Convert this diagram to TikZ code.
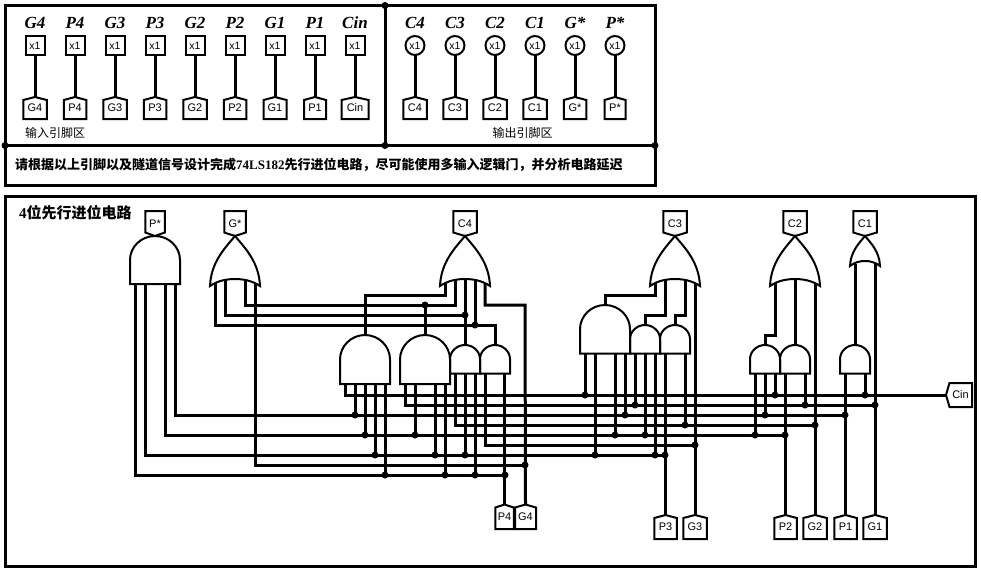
\documentclass[tikz,border=0pt]{standalone}
\usepackage{fontspec}
\setmainfont{Liberation Sans}
\newfontfamily\serifb{Liberation Serif}
\newfontfamily\cjk{Noto Sans CJK SC}
\usetikzlibrary{calc}
\tikzset{
  wire/.style={line width=3pt,line join=miter},
  frameline/.style={line width=3pt},
  outline/.style={line width=2pt,line join=miter},
  junction/.style={circle,fill=black,draw=none,inner sep=0pt,minimum size=7pt,outer sep=0pt},
  hollow/.style={rectangle,draw=none,inner sep=0pt,outer sep=0pt},
  pinname/.style={inner sep=0pt,font=\serifb\fontsize{17}{19}\selectfont\bfseries\itshape},
  tag/.style={hollow,font=\fontsize{11}{13}\selectfont},
  xbox/.style={rectangle,draw,line width=2pt,inner sep=0pt,outer sep=0pt,minimum size=19pt,font=\fontsize{10.5}{12}\selectfont},
  xcirc/.style={circle,draw,line width=2pt,inner sep=0pt,outer sep=0pt,minimum size=19pt,font=\fontsize{10.5}{12}\selectfont},
  note/.style={inner sep=0pt,anchor=west,font=\cjk\fontsize{12}{14}\selectfont},
  notebold/.style={inner sep=0pt,anchor=west,font=\cjk\bfseries\fontsize{13}{15}\selectfont},
  titlebold/.style={inner sep=0pt,anchor=west,font=\cjk\bfseries\fontsize{15}{17}\selectfont},
}
% name, cx, top, width, height, text : pentagon pointing up
\newcommand\tunUp[6]{%
  \node[tag,minimum width=#4pt,minimum height=#5pt] (#1) at (#2,#3+#5/2) {#6};
  \draw[outline] (#1.south west) -- ($(#1.north west)+(0,3)$) -- (#1.north) -- ($(#1.north east)+(0,3)$) -- (#1.south east) -- cycle;
}
% pentagon pointing down
\newcommand\tunDown[6]{%
  \node[tag,minimum width=#4pt,minimum height=#5pt] (#1) at (#2,#3+#5/2) {#6};
  \draw[outline] (#1.north west) -- ($(#1.south west)+(0,-3.5)$) -- (#1.south) -- ($(#1.south east)+(0,-3.5)$) -- (#1.north east) -- cycle;
}
% name, cx, top, width, height : AND gate
\newcommand\gAnd[5]{%
  \node[hollow,minimum width=#4pt,minimum height=#5pt] (#1) at (#2,#3+#5/2) {};
  \draw[outline] (#1.south west) -- (#1.west)
    .. controls ($(#1.west)!.55!(#1.north west)$) and ($(#1.north)!.55!(#1.north west)$) .. (#1.north)
    .. controls ($(#1.north)!.55!(#1.north east)$) and ($(#1.east)!.55!(#1.north east)$) .. (#1.east)
    -- (#1.south east) -- cycle;
}
% name, cx, top, bottom, width, back depth : OR gate
\newcommand\gOr[6]{%
  \pgfmathsetmacro\gl{#2-#5/2}\pgfmathsetmacro\gr{#2+#5/2}\pgfmathsetmacro\gh{#4-#3}
  \node[hollow,minimum width=#5pt,minimum height=\gh pt] (#1) at (#2,#3+\gh/2) {};
  \draw[outline] (\gl,#4) .. controls (\gl+.02*#5,#4-.48*\gh) and (#2-.2*#5,#3+.24*\gh) .. (#2,#3)
    .. controls (#2+.2*#5,#3+.24*\gh) and (\gr-.02*#5,#4-.48*\gh) .. (\gr,#4)
    .. controls (\gr-.16*#5,#4-.78*#6) and (#2+.16*#5,#4-#6) .. (#2,#4-#6)
    .. controls (#2-.16*#5,#4-#6) and (\gl+.16*#5,#4-.78*#6) .. (\gl,#4) -- cycle;
  \coordinate (#1b) at (#2,#4-.85*#6);
  \coordinate (#1e) at (#2,#4-.4*#6);
}
\begin{document}
\begin{tikzpicture}[x=1pt,y=-1pt]
\useasboundingbox (0,0) rectangle (981,571);
\fill[white] (0,0) rectangle (981,571);

% ---------- top panels ----------
\draw[frameline] (5,5.5) rectangle (655,185);
\draw[frameline] (5,196) rectangle (975.5,566);
\node[junction] (p1) at (385,5.5) {};
\node[junction] (p2) at (5,145.5) {};
\node[junction] (p3) at (385,145.5) {};
\node[junction] (p4) at (655,145.5) {};
\draw[frameline] (p1.center) -- (p3.center);
\draw[frameline] (p2.center) -- (p4.center);

\foreach \n/\cx/\w/\t in {G4/35/23.5/G4,P4/75/22.5/P4,G3/115/23.5/G3,P3/155/22.5/P3,G2/195/23.5/G2,P2/235/22.5/P2,G1/275/23/G1,P1/315/22/P1,Cin/355/27/Cin}{
  \node[pinname] (lab\n) at (\cx,23) {\t};
  \node[xbox] (box\n) at (\cx,45.5) {x1};
  \tunUp{pin\n}{\cx}{97}{\w}{22}{\t}
  \draw[wire] (box\n) -- (pin\n.north);
}
\foreach \n/\cx/\w/\t in {C4/415/23.5/C4,C3/455/23.5/C3,C2/495/23.5/C2,C1/535/23.5/C1,Gs/575/22.5/G*,Ps/615/21/P*}{
  \node[pinname] (lab\n) at (\cx,23) {\t};
  \node[xcirc] (box\n) at (\cx,45.5) {x1};
  \tunUp{pin\n}{\cx}{97}{\w}{22}{\t}
  \draw[wire] (box\n) -- (pin\n.north);
}
\node[note] (noteIn) at (25,132.5) {输入引脚区};
\node[note] (noteOut) at (492.5,132.5) {输出引脚区};
\node[notebold] (task) at (15,165) {请根据以上引脚以及隧道信号设计完成{\serifb\bfseries\fontsize{13}{15}\selectfont 74LS182}先行进位电路，尽可能使用多输入逻辑门，并分析电路延迟};
\node[titlebold] (title) at (19,213) {{\serifb\bfseries 4}位先行进位电路};

% ---------- output tags and gates ----------
\tunDown{TPs}{155}{211}{19.5}{25}{P*}
\tunDown{TGs}{235}{211}{21.5}{25}{G*}
\tunDown{TC4}{465}{211}{23.5}{25}{C4}
\tunDown{TC3}{675}{211}{23.5}{25}{C3}
\tunDown{TC2}{795}{211}{23.5}{25}{C2}
\tunDown{TC1}{865}{211}{23.5}{25}{C1}

\gAnd{PG}{155}{236}{50}{48}
\gOr{GG}{235}{236}{286}{50}{7}
\gOr{Oc4}{465}{236}{286}{50}{7}
\gOr{Oc3}{675}{236}{286}{50}{7}
\gOr{Oc2}{795}{236}{286}{50}{7}
\gOr{Oc1}{865}{236}{266}{30}{5}

\gAnd{a1}{365}{335}{50}{49}
\gAnd{a2}{425}{335}{50}{49}
\gAnd{a3}{465}{345}{30}{28.5}
\gAnd{a4}{495}{345}{30}{28.5}
\gAnd{b1}{605}{305}{50}{48.5}
\gAnd{b2}{645}{325}{30}{28.5}
\gAnd{b3}{675}{325}{30}{28.5}
\gAnd{d1}{765}{345}{30}{28.5}
\gAnd{d2}{795}{345}{30}{28.5}
\gAnd{e1}{855}{345}{30}{28.5}

% ---------- input tags ----------
\tunUp{TP4}{504.5}{504.5}{18.5}{24.5}{P4}
\tunUp{TG4}{525.5}{504.5}{21}{24.5}{G4}
\tunUp{TP3}{665.5}{515}{22.5}{24}{P3}
\tunUp{TG3}{695}{515}{23.5}{24}{G3}
\tunUp{TP2}{785.5}{515}{22.5}{24}{P2}
\tunUp{TG2}{815}{515}{23.5}{24}{G2}
\tunUp{TP1}{845.5}{515}{22.5}{24}{P1}
\tunUp{TG1}{875}{515}{23.5}{24}{G1}
\node[tag,minimum width=26pt,minimum height=24pt] (Cin) at (959,395) {\hspace{3pt}Cin};
\draw[outline] (Cin.west) -- ($(Cin.north west)+(3.5,0)$) -- (Cin.north east) -- (Cin.south east) -- ($(Cin.south west)+(3.5,0)$) -- cycle;

% ---------- junctions on the buses ----------
\foreach \b/\y/\xlist in {C/395/{585,775,865},Ga/405/{635,805,875},Pa/415/{355,625,765,845},Gb/425/{685,815},Pb/435/{365,415,615,645,755,785},Gc/445/{695},Pc/455/{375,435,465,595,655,665},Gd/465/{525},Pd/475/{385,445,475,505}}{
  \foreach \x in \xlist { \node[junction] (j\b\x) at (\x,\y) {}; }
}
\node[junction] (jT425) at (425,305) {};
\node[junction] (jU465) at (465,315) {};
\node[junction] (jV475) at (475,325) {};

% bus corners
\coordinate (sC) at (345,395);
\coordinate (sGa) at (405,405);
\coordinate (sPa) at (175,415);
\coordinate (sGb) at (455,425);
\coordinate (sPb) at (165,435);
\coordinate (sGc) at (485,445);
\coordinate (sPc) at (145,455);
\coordinate (sGd) at (255,465);
\coordinate (sPd) at (135,475);

% ---------- buses ----------
\draw[wire] (a1.south -| sC) -- (sC) -- (Cin.west);
\draw[wire] (a2.south -| sGa) -- (sGa) -- (jGa875.center);
\draw[wire] (PG.south -| sPa) -- (sPa) -- (jPa845.center);
\draw[wire] (a3.south -| sGb) -- (sGb) -- (jGb815.center);
\draw[wire] (PG.south -| sPb) -- (sPb) -- (jPb785.center);
\draw[wire] (a4.south -| sGc) -- (sGc) -- (jGc695.center);
\draw[wire] (PG.south -| sPc) -- (sPc) -- (jPc665.center);
\draw[wire] (GGe -| sGd) -- (sGd) -- (jGd525.center);
\draw[wire] (PG.south -| sPd) -- (sPd) -- (jPd505.center);

% ---------- AND inputs to bus junctions ----------
\foreach \g/\j in {a1/Pa355,a1/Pb365,a1/Pc375,a1/Pd385,a2/Pb415,a2/Pc435,a2/Pd445,a3/Pc465,a3/Pd475,
                   b1/C585,b1/Pc595,b1/Pb615,b1/Pa625,b2/Ga635,b2/Pb645,b2/Pc655,b3/Gb685,
                   d1/Pb755,d1/Pa765,d1/C775,d2/Ga805,e1/C865}{
  \draw[wire] (\g.south -| j\j.center) -- (j\j.center);
}
% inputs that run on down to a tag
\draw[wire] (a4.south -| TP4.north) -- (TP4.north);
\draw[wire] (b3.south -| TP3.north) -- (TP3.north);
\draw[wire] (d2.south -| TP2.north) -- (TP2.north);
\draw[wire] (e1.south -| TP1.north) -- (TP1.north);

% ---------- G* wiring ----------
\coordinate (hA) at (245,305);
\coordinate (hB) at (455,305);
\coordinate (hC) at (225,315);
\coordinate (hD) at (215,325);
\coordinate (hE) at (495,325);
\draw[wire] (GGb -| hA) -- (hA) -- (hB) -- (Oc4b -| hB);
\draw[wire] (GGb -| hC) -- (hC) -- (jU465.center);
\draw[wire] (GGe -| hD) -- (hD) -- (hE) -- (a4.north);
\draw[wire] (a2.north) -- (jT425.center);

% ---------- C4 wiring ----------
\coordinate (hF) at (445,295);
\coordinate (hG) at (485,305);
\coordinate (hH) at (525,305);
\draw[wire] (Oc4e -| hF) -- (hF) -- (a1.north |- hF) -- (a1.north);
\draw[wire] (Oc4b) -- (a3.north);
\draw[wire] (Oc4b -| jV475.center) -- (jV475.center);
\draw[wire] (Oc4e -| hG) -- (hG) -- (hH) -- (TG4.north);

% ---------- C3 wiring ----------
\coordinate (hI) at (655,295);
\coordinate (hJ) at (665,315);
\coordinate (hK) at (685,315);
\draw[wire] (Oc3e -| hI) -- (hI) -- (b1.north |- hI) -- (b1.north);
\draw[wire] (Oc3b -| hJ) -- (hJ) -- (b2.north |- hJ) -- (b2.north);
\draw[wire] (Oc3b -| hK) -- (hK) -- (b3.north |- hK) -- (b3.north);
\draw[wire] (Oc3e -| TG3.north) -- (TG3.north);

% ---------- C2 wiring ----------
\coordinate (hL) at (775,335);
\draw[wire] (Oc2e -| hL) -- (hL) -- (d1.north |- hL) -- (d1.north);
\draw[wire] (Oc2b) -- (d2.north);
\draw[wire] (Oc2e -| TG2.north) -- (TG2.north);

% ---------- C1 wiring ----------
\draw[wire] (Oc1e -| e1.north) -- (e1.north);
\draw[wire] (Oc1e -| TG1.north) -- (TG1.north);
\end{tikzpicture}
\end{document}
